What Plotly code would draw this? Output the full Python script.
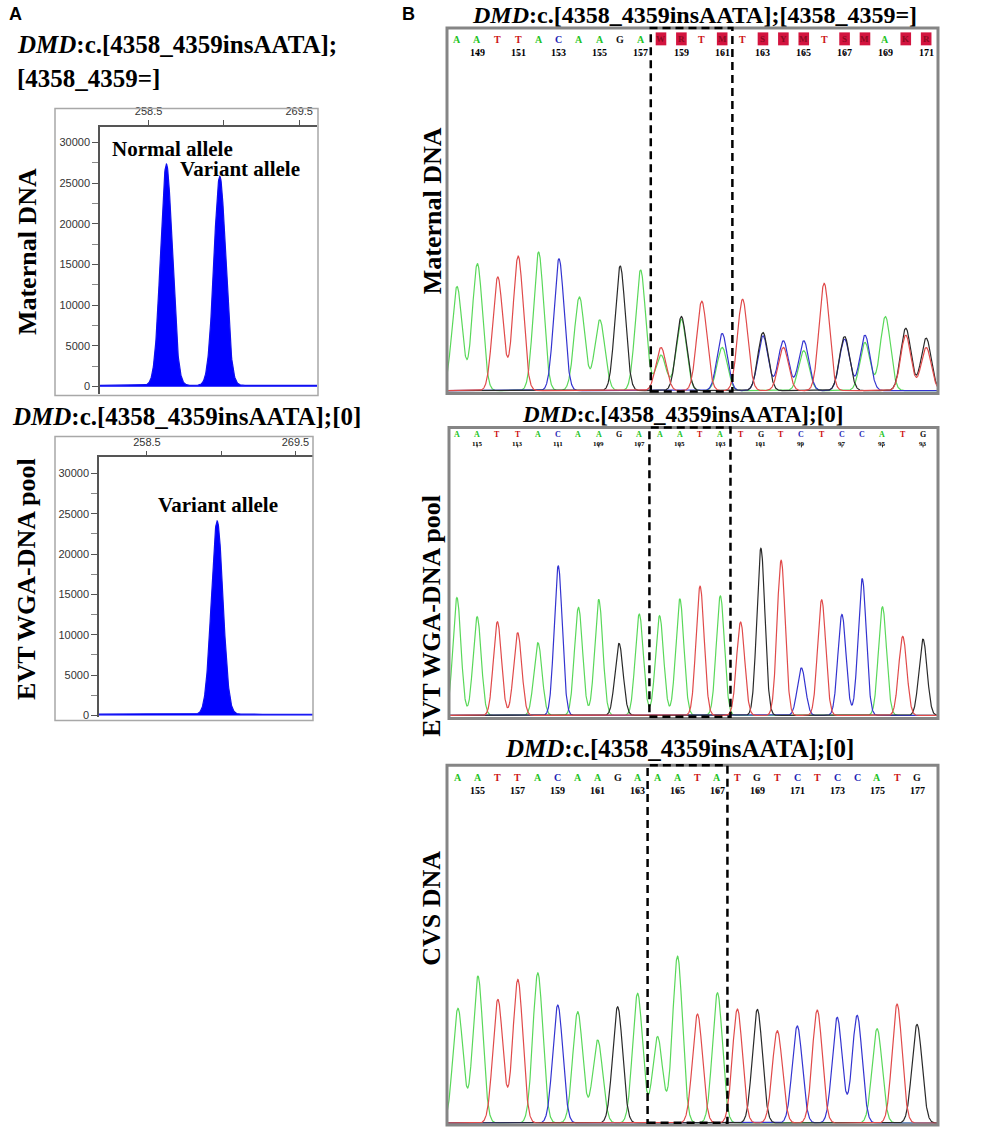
import numpy as np
import plotly.graph_objects as go

# ---- painel A: analise de fragmentos ----
frag_tickvals = [258.5, 264, 269.5]
frag_ticktext = ['258.5', '', '269.5']
frag_yticks = [0, 5000, 10000, 15000, 20000, 25000, 30000]
mat_frag_size = [259.8, 263.7]
mat_frag_height = [27200, 25700]
evt_frag_size = [263.7]
evt_frag_height = [23950]

# ---- painel B: cromatogramas (alturas por canal, uma por base) ----
mat_bases = list("AATTACAAGAWRTMTSYMTSMAKR")
mat_labels = [149, 151, 153, 155, 157, 159, 161, 163, 165, 167, 169, 171]
mat_A = [313, 382, 0, 0, 417, 0, 282, 213, 0, 363, 107, 215, 0, 130, 0, 0, 0, 120, 0, 0, 145, 223, 0, 0]
mat_C = [0, 0, 0, 0, 0, 397, 0, 0, 0, 0, 0, 0, 0, 172, 0, 165, 150, 150, 0, 155, 167, 0, 0, 0]
mat_G = [0, 0, 0, 0, 0, 0, 0, 0, 375, 0, 0, 223, 0, 0, 0, 175, 0, 0, 0, 163, 0, 0, 188, 158]
mat_T = [0, 0, 342, 405, 0, 0, 0, 0, 0, 0, 130, 0, 269, 0, 275, 0, 130, 0, 323, 0, 0, 0, 167, 130]

evt_bases = list("AATTACAAGAAATATGTCTCCATG")
evt_labels = [115, 113, 111, 109, 107, 105, 103, 101, 99, 97, 95, 93]
evt_A = [355, 297, 0, 0, 219, 0, 325, 349, 0, 305, 300, 351, 0, 360, 0, 0, 0, 0, 0, 0, 0, 327, 0, 0]
evt_C = [0, 0, 0, 0, 0, 450, 0, 0, 0, 0, 0, 0, 0, 0, 0, 0, 0, 143, 0, 304, 412, 0, 0, 0]
evt_G = [0, 0, 0, 0, 0, 0, 0, 0, 217, 0, 0, 0, 0, 0, 0, 503, 0, 0, 0, 0, 0, 0, 0, 230]
evt_T = [0, 0, 282, 249, 0, 0, 0, 0, 0, 0, 0, 0, 389, 0, 281, 0, 467, 0, 348, 0, 0, 0, 238, 0]

cvs_bases = list("AATTACAAGAAATATGTCTCCATG")
cvs_labels = [155, 157, 159, 161, 163, 165, 167, 169, 171, 173, 175, 177]
cvs_A = [345, 442, 0, 0, 452, 0, 335, 250, 0, 390, 260, 502, 0, 392, 0, 0, 0, 0, 0, 0, 0, 284, 0, 0]
cvs_C = [0, 0, 0, 0, 0, 355, 0, 0, 0, 0, 0, 0, 0, 0, 0, 0, 0, 292, 0, 318, 324, 0, 0, 0]
cvs_G = [0, 0, 0, 0, 0, 0, 0, 0, 350, 0, 0, 0, 0, 0, 0, 342, 0, 0, 0, 0, 0, 0, 0, 297]
cvs_T = [0, 0, 372, 432, 0, 0, 0, 0, 0, 0, 0, 0, 328, 0, 343, 0, 278, 0, 340, 0, 0, 0, 358, 0]

W, H = 982, 1133
SERIF = 'Liberation Serif'
SANS = 'Liberation Sans'

trace_colors = {'A': '#5ad85a', 'C': '#3434d0', 'G': '#2a2a2a', 'T': '#e04a4a'}
letter_colors = {'A': '#22c322', 'C': '#1e1eb4', 'G': '#111111', 'T': '#cc1111'}


def px(x0, x1):
    return [x0 / W, x1 / W]


def py(y_top, y_bot):
    return [1 - y_bot / H, 1 - y_top / H]


def peak_curve(x, centers, heights, sigma, base=0.0):
    y = np.full_like(x, base, dtype=float)
    for c, h in zip(centers, heights):
        if h:
            y += h * np.exp(-0.5 * ((x - c) / sigma) ** 2)
    return y


fig = go.Figure()
annotations = []
shapes = []

# ---------------- painel A ----------------
xf = np.arange(254.9, 270.9, 0.02)
frag_panels = [
    ('x', 'y', mat_frag_size, mat_frag_height),
    ('x2', 'y2', evt_frag_size, evt_frag_height),
]
for xa, ya, sizes, heights in frag_panels:
    fig.add_trace(go.Scatter(
        x=xf, y=peak_curve(xf, sizes, heights, 0.43, base=150),
        xaxis=xa, yaxis=ya, mode='lines', fill='tozeroy',
        line=dict(color='#1010ee', width=1.2), fillcolor='#0000ff',
        hoverinfo='skip'))

frag_axis = dict(range=[254.95, 270.8], side='top', tickvals=frag_tickvals,
                 ticktext=frag_ticktext, ticks='outside', ticklen=5,
                 tickcolor='#555', showline=True, linecolor='#555', linewidth=1.5,
                 tickfont=dict(family=SANS, size=11, color='#333'),
                 showgrid=False, zeroline=False)
frag_yaxis = dict(tickvals=frag_yticks, tickformat='d', ticks='outside', ticklen=6,
                  tickcolor='#555',
                  minor=dict(tickvals=[2500, 7500, 12500, 17500, 22500, 27500],
                             ticks='outside', ticklen=6, tickcolor='#888'),
                  showline=True, linecolor='#555', linewidth=1.5,
                  tickfont=dict(family=SANS, size=11, color='#333'),
                  showgrid=False, zeroline=False)

fig.update_layout(
    xaxis=dict(frag_axis, domain=px(100, 317), anchor='y'),
    yaxis=dict(frag_yaxis, domain=py(127, 395), range=[-857, 31960], anchor='x'),
    xaxis2=dict(frag_axis, domain=px(99, 313), anchor='y2'),
    yaxis2=dict(frag_yaxis, domain=py(459, 720), range=[-250, 31980], anchor='x2'),
)

# cadres gris autour des graphiques A
for x0, x1, y0, y1 in [(55, 318, 109, 397), (55, 313, 438, 723)]:
    shapes.append(dict(type='rect', xref='paper', yref='paper',
                       x0=x0 / W, x1=x1 / W, y0=1 - y1 / H, y1=1 - y0 / H,
                       line=dict(color='#a8a8a8', width=1.5)))


def add_text(text, x, y, size, xanchor='center', angle=0, family=SERIF, color='black'):
    annotations.append(dict(text=text, x=x / W, y=1 - y / H, xref='paper', yref='paper',
                            showarrow=False, xanchor=xanchor, yanchor='middle',
                            textangle=angle, font=dict(family=family, size=size, color=color)))


add_text('<b>A</b>', 7, 14, 18, xanchor='left', family=SANS)
add_text('<b>B</b>', 400, 14, 18, xanchor='left', family=SANS)

add_text('<b><i>DMD</i>:c.[4358_4359insAATA];</b>', 15, 45, 25, xanchor='left')
add_text('<b>[4358_4359=]</b>', 15, 79, 25, xanchor='left')
add_text('<b><i>DMD</i>:c.[4358_4359insAATA];[0]</b>', 10, 418, 25, xanchor='left')
add_text('<b>Maternal DNA</b>', 27, 253, 26, angle=-90)
add_text('<b>EVT WGA-DNA pool</b>', 27, 581, 26, angle=-90)
add_text('<b>Normal allele</b>', 172, 150, 21)
add_text('<b>Variant allele</b>', 240, 170, 21)
add_text('<b>Variant allele</b>', 218, 507, 21)

# ---------------- painel B ----------------
# posicoes verticais em pixels a partir do topo de cada quadro
chromatograms = [
    dict(bases=mat_bases, labels=mat_labels, ch={'A': mat_A, 'C': mat_C, 'G': mat_G, 'T': mat_T},
         box=(447, 938, 28, 395), xr=[-0.49, 23.58], yr=[-9, 1092], sigma=0.25,
         let_px=5, box_px=11, num_px=18, tick_px=(25, 28), lsize=10, nsize=10,
         title=('<b><i>DMD</i>:c.[4358_4359insAATA];[4358_4359=]</b>', 694, 15, 24),
         ylabel=('<b>Maternal DNA</b>', 432, 212)),
    dict(bases=evt_bases, labels=evt_labels, ch={'A': evt_A, 'C': evt_C, 'G': evt_G, 'T': evt_T},
         box=(449, 938, 429, 721), xr=[-0.39, 23.74], yr=[-9, 867], sigma=0.2,
         let_px=1.5, box_px=6, num_px=11.5, tick_px=(17, 20), lsize=8, nsize=7,
         title=('<b><i>DMD</i>:c.[4358_4359insAATA];[0]</b>', 682, 416, 23),
         ylabel=('<b>EVT WGA-DNA pool</b>', 432, 618)),
    dict(bases=cvs_bases, labels=cvs_labels, ch={'A': cvs_A, 'C': cvs_C, 'G': cvs_G, 'T': cvs_T},
         box=(447, 938, 768, 1129), xr=[-0.55, 24.05], yr=[-6, 1077], sigma=0.25,
         let_px=5.5, box_px=10, num_px=18.5, tick_px=(25, 28), lsize=10, nsize=10,
         title=('<b><i>DMD</i>:c.[4358_4359insAATA];[0]</b>', 679, 751, 25),
         ylabel=('<b>CVS DNA</b>', 432, 912)),
]

for k, c in enumerate(chromatograms):
    n = k + 3
    xa, ya = f'x{n}', f'y{n}'
    idx = np.arange(len(c['bases']))
    xs = np.arange(c['xr'][0], c['xr'][1], 0.01)
    for base in ['A', 'C', 'G', 'T']:
        fig.add_trace(go.Scatter(
            x=xs, y=peak_curve(xs, idx, c['ch'][base], c['sigma']),
            xaxis=xa, yaxis=ya, mode='lines',
            line=dict(color=trace_colors[base], width=1.2), hoverinfo='skip'))
    x0, x1, y0, y1 = c['box']
    box_h = y1 - y0

    def dom(p):
        return 1 - p / box_h

    fig.update_layout({
        f'xaxis{n}': dict(domain=px(x0, x1), range=c['xr'], visible=False, anchor=ya),
        f'yaxis{n}': dict(domain=py(y0, y1), range=c['yr'], visible=False, anchor=xa),
    })
    # cadre
    shapes.append(dict(type='rect', xref=f'{xa} domain', yref=f'{ya} domain',
                       x0=0, x1=1, y0=0, y1=1, line=dict(color='#858585', width=3)))
    # zone de l'insertion
    shapes.append(dict(type='rect', xref=xa, yref=f'{ya} domain',
                       x0=9.5, x1=13.5, y0=0.006, y1=1.0,
                       line=dict(color='black', width=2.5, dash='8px,5px')))
    # bases appelees (codes IUPAC sur fond rouge)
    for i, b in enumerate(c['bases']):
        ann = dict(text=f'<b>{b}</b>', x=i, y=dom(c['let_px']), xref=xa, yref=f'{ya} domain',
                   showarrow=False, borderpad=0)
        if b in letter_colors:
            ann['font'] = dict(family=SERIF, size=c['lsize'], color=letter_colors[b])
        else:
            ann['font'] = dict(family=SERIF, size=c['lsize'] - 1, color='#8c0a22')
            shapes.append(dict(type='rect', xref=xa, yref=f'{ya} domain',
                               x0=i - 0.26, x1=i + 0.26,
                               y0=dom(c['box_px'] + 6.5), y1=dom(c['box_px'] - 6.5),
                               fillcolor='#d3143f', line=dict(width=0)))
        annotations.append(ann)
    # numerotation
    for j, lab in enumerate(c['labels']):
        xi = 1 + 2 * j
        annotations.append(dict(text=f'<b>{lab}</b>', x=xi, y=dom(c['num_px']), xref=xa,
                                yref=f'{ya} domain', showarrow=False, borderpad=0,
                                font=dict(family=SERIF, size=c['nsize'], color='black')))
        shapes.append(dict(type='line', xref=xa, yref=f'{ya} domain', x0=xi, x1=xi,
                           y0=dom(c['tick_px'][1]), y1=dom(c['tick_px'][0]),
                           line=dict(color='#333', width=1)))
    t, tx, ty, ts = c['title']
    add_text(t, tx, ty, ts)
    lt, lx, ly = c['ylabel']
    add_text(lt, lx, ly, 26, angle=-90)

fig.update_layout(
    width=W, height=H, autosize=False,
    margin=dict(l=0, r=0, t=0, b=0),
    paper_bgcolor='white', plot_bgcolor='white',
    showlegend=False,
    annotations=annotations, shapes=shapes,
)

fig.write_html("out.html", config={'displayModeBar': False},
               post_script="document.body.style.margin='0';")
